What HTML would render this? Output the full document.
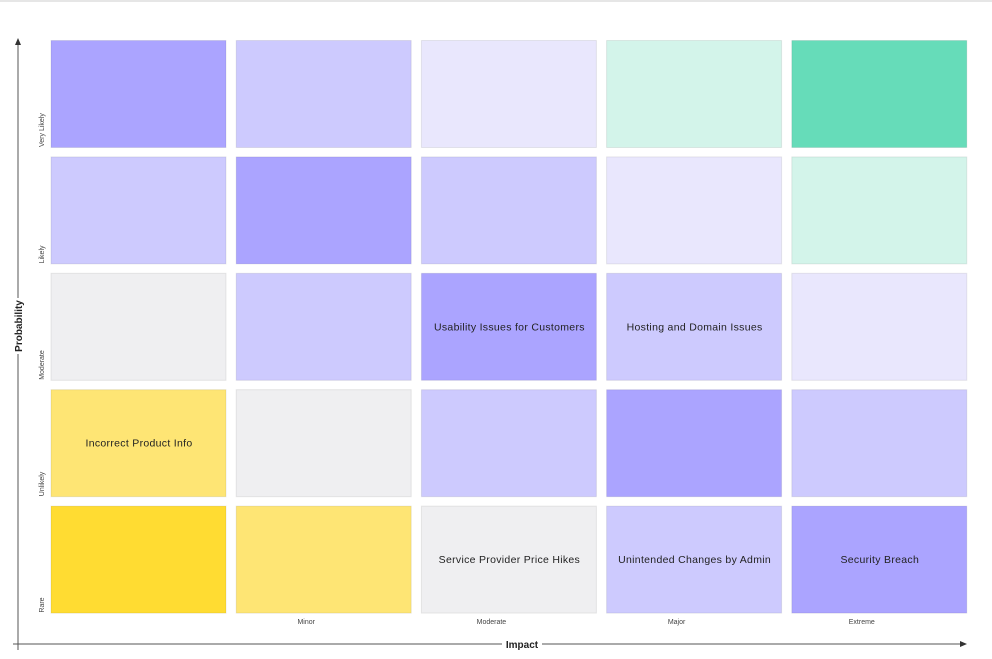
<!DOCTYPE html>
<html><head><meta charset="utf-8"><style>
body{margin:0;width:992px;height:659px;background:#fff;font-family:"Liberation Sans",sans-serif;overflow:hidden;position:relative}
</style></head><body>
<div style="position:absolute;left:0;top:0;width:992px;height:2px;background:#e6e6e6"></div>
<svg id="chart" width="992" height="659" style="position:absolute;left:0;top:0">
<line x1="18" y1="44" x2="18" y2="650" stroke="#555" stroke-width="1"/>
<polygon points="18,38 15,45 21,45" fill="#333"/>
<line x1="13" y1="644" x2="962" y2="644" stroke="#555" stroke-width="1"/>
<polygon points="967,644 960,641 960,647" fill="#333"/>
<rect x="502" y="637" width="40" height="14" fill="#fff"/>
<text x="522" y="648" font-size="10" font-weight="bold" text-anchor="middle" fill="#222">Impact</text>
<rect x="11" y="298" width="14" height="56" fill="#fff"/>
<text transform="translate(22,326) rotate(-90)" font-size="10" font-weight="bold" text-anchor="middle" fill="#222">Probability</text>
<g id="cells"></g>
</svg>
<script>
const impacts=["","Minor","Moderate","Major","Extreme"];
const probs=["Very Likely","Likely","Moderate","Unlikely","Rare"];
const levels=[
[4,3,2,1,0],
[3,4,3,2,1],
[5,3,4,3,2],
[6,5,3,4,3],
[7,6,5,3,4]];
const palette=["#66dcb9","#d3f4ea","#e9e7fd","#cdcafe","#aba4ff","#efeff1","#fee574","#ffdc32"];
const risks=[
{p:2,i:2,t:"Usability Issues for Customers"},
{p:2,i:3,t:"Hosting and Domain Issues"},
{p:3,i:0,t:"Incorrect Product Info"},
{p:4,i:2,t:"Service Provider Price Hikes"},
{p:4,i:3,t:"Unintended Changes by Admin"},
{p:4,i:4,t:"Security Breach"}];
const NS="http://www.w3.org/2000/svg";
const g=document.getElementById('cells');
const xs=i=>50.5+i*185.2, ys=p=>40+p*116.4, W=175, H=107;
function mk(tag,a){const e=document.createElementNS(NS,tag);for(const k in a)e.setAttribute(k,a[k]);g.appendChild(e);return e;}
levels.forEach((row,p)=>row.forEach((lv,i)=>{
 const r=mk('rect',{x:xs(i)+0.5,y:ys(p)+0.5,width:W,height:H,fill:palette[lv],stroke:'rgba(0,0,0,0.08)','stroke-width':1});
 
 
}));
probs.forEach((l,p)=>{
 const t=mk('text',{transform:`translate(44,${ys(p)+H}) rotate(-90)`,'font-size':7,fill:'#444'});
 t.textContent=l;
 
 
});
impacts.forEach((l,i)=>{
 const t=mk('text',{x:xs(i)+W/2-17,y:624,'font-size':7,fill:'#444','text-anchor':'middle'});
 t.textContent=l;
 
 
});
risks.forEach(r=>{
 const t=mk('text',{x:xs(r.i)+W/2+1,y:ys(r.p)+H/2+4,'font-size':10.5,fill:'#222','text-anchor':'middle','letter-spacing':0.3});
 t.textContent=r.t;
 
 
});
</script>
</body></html>
